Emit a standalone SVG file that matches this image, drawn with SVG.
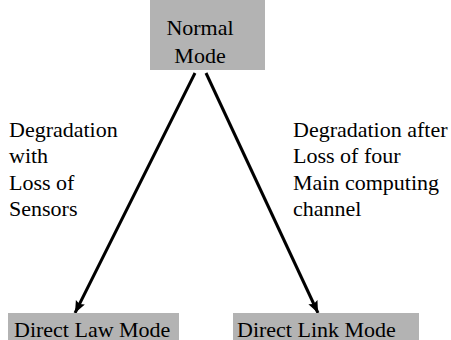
<svg xmlns="http://www.w3.org/2000/svg" width="451" height="340" viewBox="0 0 451 340">
<style>
.box{fill:#b3b3b3;stroke:none}
text{font-family:'Liberation Serif',serif;font-size:22px;fill:#000}
.c{stroke:#000;stroke-width:3;fill:none;marker-end:url(#ah)}
</style>
<defs>
<marker id="ah" markerWidth="4" markerHeight="4" viewBox="0 0 12 12" refX="12" refY="6" orient="auto" markerUnits="strokeWidth">
<path d="M0,1 L12,6 L0,11 L2,6 Z" fill="#000"/>
</marker>
</defs>
<rect width="451" height="340" fill="#fff"/>
<g id="connectors">
<line class="c" x1="195" y1="73" x2="75" y2="313"/>
<line class="c" x1="206" y1="73" x2="318" y2="313"/>
</g>
<g id="normal-mode">
<rect class="box" x="150" y="0" width="115" height="70"/>
<text x="200" y="35" text-anchor="middle">Normal</text>
<text x="200" y="63" text-anchor="middle">Mode</text>
</g>
<g id="direct-law-mode">
<rect class="box" x="8" y="313" width="171" height="27"/>
<text x="14" y="337">Direct Law Mode</text>
</g>
<g id="direct-link-mode">
<rect class="box" x="233" y="313" width="186" height="27"/>
<text x="237" y="337">Direct Link Mode</text>
</g>
<g id="label-left">
<text x="9" y="137">Degradation</text>
<text x="9" y="163">with</text>
<text x="9" y="190">Loss of</text>
<text x="9" y="216">Sensors</text>
</g>
<g id="label-right">
<text x="293" y="137">Degradation after</text>
<text x="293" y="163">Loss of four</text>
<text x="293" y="190">Main computing</text>
<text x="293" y="216">channel</text>
</g>
</svg>
